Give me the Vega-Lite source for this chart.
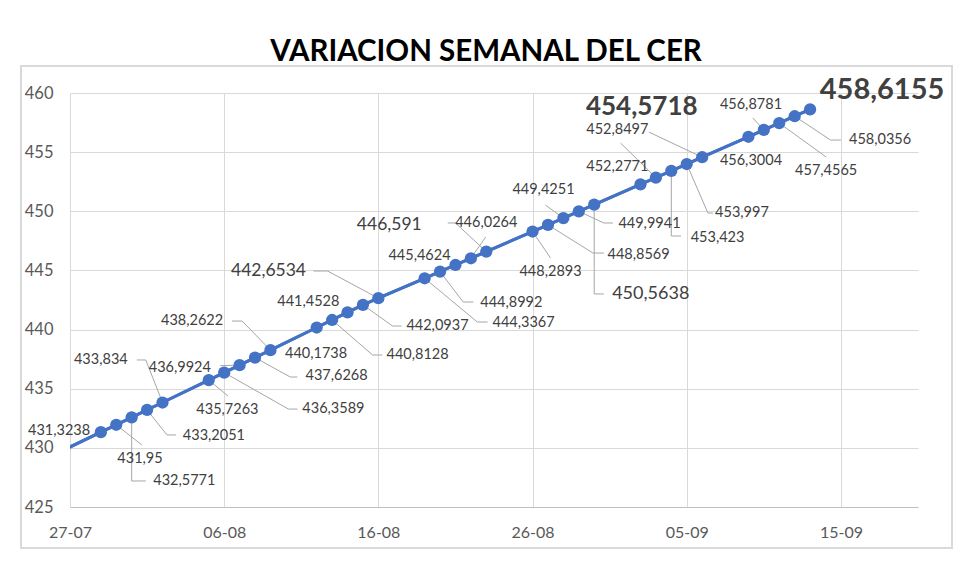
{
"$schema": "https://vega.github.io/schema/vega-lite/v6.json",
"autosize": {"type": "none"},
"width": 848,
"height": 414,
"padding": {"left": 70, "top": 93, "right": 62, "bottom": 57},
"background": "white",
"title": {"text": "VARIACION SEMANAL DEL CER", "font": "Lato", "fontSize": 29.5, "fontWeight": "bold", "color": "#000000", "anchor": "middle", "offset": -2, "dx": -8},
"data": {"values": [
{"date":"2024/07/26","value":429.45},
{"date":"2024/07/29","value":431.3238},
{"date":"2024/07/30","value":431.95},
{"date":"2024/07/31","value":432.5771},
{"date":"2024/08/01","value":433.2051},
{"date":"2024/08/02","value":433.834},
{"date":"2024/08/05","value":435.7263},
{"date":"2024/08/06","value":436.3589},
{"date":"2024/08/07","value":436.9924},
{"date":"2024/08/08","value":437.6268},
{"date":"2024/08/09","value":438.2622},
{"date":"2024/08/12","value":440.1738},
{"date":"2024/08/13","value":440.8128},
{"date":"2024/08/14","value":441.4528},
{"date":"2024/08/15","value":442.0937},
{"date":"2024/08/16","value":442.6534},
{"date":"2024/08/19","value":444.3367},
{"date":"2024/08/20","value":444.8992},
{"date":"2024/08/21","value":445.4624},
{"date":"2024/08/22","value":446.0264},
{"date":"2024/08/23","value":446.591},
{"date":"2024/08/26","value":448.2893},
{"date":"2024/08/27","value":448.8569},
{"date":"2024/08/28","value":449.4251},
{"date":"2024/08/29","value":449.9941},
{"date":"2024/08/30","value":450.5638},
{"date":"2024/09/02","value":452.2771},
{"date":"2024/09/03","value":452.8497},
{"date":"2024/09/04","value":453.423},
{"date":"2024/09/05","value":453.997},
{"date":"2024/09/06","value":454.5718},
{"date":"2024/09/09","value":456.3004},
{"date":"2024/09/10","value":456.8781},
{"date":"2024/09/11","value":457.4565},
{"date":"2024/09/12","value":458.0356},
{"date":"2024/09/13","value":458.6155}
]},
"layer": [
{"mark": {"type": "line", "color": "#4472C4", "strokeWidth": 3, "clip": true},
 "encoding": {
  "x": {"field": "date", "type": "temporal",
        "scale": {"domain": [{"year":2024,"month":7,"date":27},{"year":2024,"month":9,"date":20}], "nice": false},
        "axis": {"title": null, "format": "%d-%m", "values": [{"year":2024,"month":7,"date":27},{"year":2024,"month":8,"date":6},{"year":2024,"month":8,"date":16},{"year":2024,"month":8,"date":26},{"year":2024,"month":9,"date":5},{"year":2024,"month":9,"date":15}],
                 "grid": true, "gridColor": "#D9D9D9", "ticks": false, "domain": true, "domainColor": "#BFBFBF", "labelFont": "Lato", "labelFontSize": 16, "labelColor": "#595959", "labelPadding": 17, "labelFlush": false}},
  "y": {"field": "value", "type": "quantitative",
        "scale": {"domain": [425, 460], "nice": false, "zero": false},
        "axis": {"title": null, "values": [425,430,435,440,445,450,455,460], "grid": true, "gridColor": "#D9D9D9", "ticks": false, "domain": false, "labelFont": "Lato", "labelFontSize": 16.5, "labelColor": "#595959", "labelPadding": 17}}
 }},
{"mark": {"type": "rect", "fill": null, "stroke": "#D9D9D9", "strokeWidth": 1.5, "clip": false},
 "encoding": {"x": {"datum": {"year":2024,"month":7,"date":23,"hours":20}}, "x2": {"datum": {"year":2024,"month":9,"date":22,"hours":5}}, "y": {"datum": 462.3}, "y2": {"datum": 421.55}}},
{"transform":[{"filter":"datum.value==431.95"}],"layer":[
 {"mark":"rule","encoding":{"x":{"field":"date","type":"temporal"},"y":{"field":"value","type":"quantitative"},"x2":{"datum":{"year":2024,"month":7,"date":31,"hours":16}},"y2":{"datum":430.24}}}]},
{"transform":[{"filter":"datum.value==432.5771"}],"layer":[
 {"mark":"rule","encoding":{"x":{"field":"date","type":"temporal"},"y":{"field":"value","type":"quantitative"},"y2":{"datum":427.2}}},
 {"mark":"rule","encoding":{"x":{"field":"date","type":"temporal"},"x2":{"datum":{"year":2024,"month":7,"date":31,"hours":22}},"y":{"datum":427.2}}}]},
{"transform":[{"filter":"datum.value==433.2051"}],"layer":[
 {"mark":"rule","encoding":{"x":{"field":"date","type":"temporal"},"y":{"field":"value","type":"quantitative"},"x2":{"datum":{"year":2024,"month":8,"date":2,"hours":7}},"y2":{"datum":431.09}}},
 {"mark":"rule","encoding":{"x":{"datum":{"year":2024,"month":8,"date":2,"hours":7}},"x2":{"datum":{"year":2024,"month":8,"date":2,"hours":21}},"y":{"datum":431.09}}}]},
{"transform":[{"filter":"datum.value==433.834"}],"layer":[
 {"mark":"rule","encoding":{"x":{"field":"date","type":"temporal"},"y":{"field":"value","type":"quantitative"},"x2":{"datum":{"year":2024,"month":7,"date":31,"hours":22}},"y2":{"datum":437.43}}},
 {"mark":"rule","encoding":{"x":{"datum":{"year":2024,"month":7,"date":31,"hours":22}},"x2":{"datum":{"year":2024,"month":7,"date":31,"hours":8}},"y":{"datum":437.43}}}]},
{"transform":[{"filter":"datum.value==436.9924"}],"layer":[
 {"mark":"rule","encoding":{"x":{"field":"date","type":"temporal"},"y":{"field":"value","type":"quantitative"},"x2":{"datum":{"year":2024,"month":8,"date":5,"hours":18}},"y2":{"datum":436.95}}}]},
{"transform":[{"filter":"datum.value==435.7263"}],"layer":[
 {"mark":"rule","encoding":{"x":{"field":"date","type":"temporal"},"y":{"field":"value","type":"quantitative"},"x2":{"datum":{"year":2024,"month":8,"date":6,"hours":6}},"y2":{"datum":434.38}}}]},
{"transform":[{"filter":"datum.value==436.3589"}],"layer":[
 {"mark":"rule","encoding":{"x":{"field":"date","type":"temporal"},"y":{"field":"value","type":"quantitative"},"x2":{"datum":{"year":2024,"month":8,"date":10,"hours":4}},"y2":{"datum":433.28}}},
 {"mark":"rule","encoding":{"x":{"datum":{"year":2024,"month":8,"date":10,"hours":4}},"x2":{"datum":{"year":2024,"month":8,"date":10,"hours":18}},"y":{"datum":433.28}}}]},
{"transform":[{"filter":"datum.value==437.6268"}],"layer":[
 {"mark":"rule","encoding":{"x":{"field":"date","type":"temporal"},"y":{"field":"value","type":"quantitative"},"x2":{"datum":{"year":2024,"month":8,"date":10,"hours":7}},"y2":{"datum":435.99}}},
 {"mark":"rule","encoding":{"x":{"datum":{"year":2024,"month":8,"date":10,"hours":7}},"x2":{"datum":{"year":2024,"month":8,"date":10,"hours":18}},"y":{"datum":435.99}}}]},
{"transform":[{"filter":"datum.value==438.2622"}],"layer":[
 {"mark":"rule","encoding":{"x":{"field":"date","type":"temporal"},"y":{"field":"value","type":"quantitative"},"x2":{"datum":{"year":2024,"month":8,"date":7,"hours":4}},"y2":{"datum":440.72}}},
 {"mark":"rule","encoding":{"x":{"datum":{"year":2024,"month":8,"date":7,"hours":4}},"x2":{"datum":{"year":2024,"month":8,"date":6,"hours":12}},"y":{"datum":440.72}}}]},
{"transform":[{"filter":"datum.value==440.8128"}],"layer":[
 {"mark":"rule","encoding":{"x":{"field":"date","type":"temporal"},"y":{"field":"value","type":"quantitative"},"x2":{"datum":{"year":2024,"month":8,"date":15,"hours":15}},"y2":{"datum":437.85}}},
 {"mark":"rule","encoding":{"x":{"datum":{"year":2024,"month":8,"date":15,"hours":15}},"x2":{"datum":{"year":2024,"month":8,"date":16,"hours":6}},"y":{"datum":437.85}}}]},
{"transform":[{"filter":"datum.value==442.0937"}],"layer":[
 {"mark":"rule","encoding":{"x":{"field":"date","type":"temporal"},"y":{"field":"value","type":"quantitative"},"x2":{"datum":{"year":2024,"month":8,"date":16,"hours":22}},"y2":{"datum":440.3}}},
 {"mark":"rule","encoding":{"x":{"datum":{"year":2024,"month":8,"date":16,"hours":22}},"x2":{"datum":{"year":2024,"month":8,"date":17,"hours":12}},"y":{"datum":440.3}}}]},
{"transform":[{"filter":"datum.value==442.6534"}],"layer":[
 {"mark":"rule","encoding":{"x":{"field":"date","type":"temporal"},"y":{"field":"value","type":"quantitative"},"x2":{"datum":{"year":2024,"month":8,"date":12,"hours":17}},"y2":{"datum":444.95}}},
 {"mark":"rule","encoding":{"x":{"datum":{"year":2024,"month":8,"date":12,"hours":17}},"x2":{"datum":{"year":2024,"month":8,"date":11,"hours":19}},"y":{"datum":444.95}}}]},
{"transform":[{"filter":"datum.value==444.3367"}],"layer":[
 {"mark":"rule","encoding":{"x":{"field":"date","type":"temporal"},"y":{"field":"value","type":"quantitative"},"x2":{"datum":{"year":2024,"month":8,"date":22,"hours":10}},"y2":{"datum":440.64}}},
 {"mark":"rule","encoding":{"x":{"datum":{"year":2024,"month":8,"date":22,"hours":10}},"x2":{"datum":{"year":2024,"month":8,"date":23,"hours":2}},"y":{"datum":440.64}}}]},
{"transform":[{"filter":"datum.value==444.8992"}],"layer":[
 {"mark":"rule","encoding":{"x":{"field":"date","type":"temporal"},"y":{"field":"value","type":"quantitative"},"x2":{"datum":{"year":2024,"month":8,"date":21,"hours":12}},"y2":{"datum":442.33}}},
 {"mark":"rule","encoding":{"x":{"datum":{"year":2024,"month":8,"date":21,"hours":12}},"x2":{"datum":{"year":2024,"month":8,"date":22,"hours":4}},"y":{"datum":442.33}}}]},
{"transform":[{"filter":"datum.value==446.0264"}],"layer":[
 {"mark":"rule","encoding":{"x":{"field":"date","type":"temporal"},"y":{"field":"value","type":"quantitative"},"x2":{"datum":{"year":2024,"month":8,"date":22,"hours":23}},"y2":{"datum":447.82}}}]},
{"transform":[{"filter":"datum.value==446.591"}],"layer":[
 {"mark":"rule","encoding":{"x":{"field":"date","type":"temporal"},"y":{"field":"value","type":"quantitative"},"x2":{"datum":{"year":2024,"month":8,"date":21,"hours":0}},"y2":{"datum":449.01}}},
 {"mark":"rule","encoding":{"x":{"datum":{"year":2024,"month":8,"date":21,"hours":0}},"x2":{"datum":{"year":2024,"month":8,"date":20,"hours":12}},"y":{"datum":449.01}}}]},
{"transform":[{"filter":"datum.value==448.2893"}],"layer":[
 {"mark":"rule","encoding":{"x":{"field":"date","type":"temporal"},"y":{"field":"value","type":"quantitative"},"x2":{"datum":{"year":2024,"month":8,"date":27,"hours":4}},"y2":{"datum":446.05}}}]},
{"transform":[{"filter":"datum.value==448.8569"}],"layer":[
 {"mark":"rule","encoding":{"x":{"field":"date","type":"temporal"},"y":{"field":"value","type":"quantitative"},"x2":{"datum":{"year":2024,"month":8,"date":29,"hours":22}},"y2":{"datum":446.47}}},
 {"mark":"rule","encoding":{"x":{"datum":{"year":2024,"month":8,"date":29,"hours":22}},"x2":{"datum":{"year":2024,"month":8,"date":30,"hours":15}},"y":{"datum":446.47}}}]},
{"transform":[{"filter":"datum.value==449.4251"}],"layer":[
 {"mark":"rule","encoding":{"x":{"field":"date","type":"temporal"},"y":{"field":"value","type":"quantitative"},"x2":{"datum":{"year":2024,"month":8,"date":26,"hours":20}},"y2":{"datum":450.53}}}]},
{"transform":[{"filter":"datum.value==449.9941"}],"layer":[
 {"mark":"rule","encoding":{"x":{"field":"date","type":"temporal"},"y":{"field":"value","type":"quantitative"},"x2":{"datum":{"year":2024,"month":8,"date":30,"hours":15}},"y2":{"datum":449.01}}},
 {"mark":"rule","encoding":{"x":{"datum":{"year":2024,"month":8,"date":30,"hours":15}},"x2":{"datum":{"year":2024,"month":8,"date":31,"hours":5}},"y":{"datum":449.01}}}]},
{"transform":[{"filter":"datum.value==450.5638"}],"layer":[
 {"mark":"rule","encoding":{"x":{"field":"date","type":"temporal"},"y":{"field":"value","type":"quantitative"},"y2":{"datum":443.01}}},
 {"mark":"rule","encoding":{"x":{"field":"date","type":"temporal"},"x2":{"datum":{"year":2024,"month":8,"date":30,"hours":15}},"y":{"datum":443.01}}}]},
{"transform":[{"filter":"datum.value==452.8497"}],"layer":[
 {"mark":"rule","encoding":{"x":{"field":"date","type":"temporal"},"y":{"field":"value","type":"quantitative"},"x2":{"datum":{"year":2024,"month":8,"date":31,"hours":17}},"y2":{"datum":455.77}}}]},
{"transform":[{"filter":"datum.value==454.5718"}],"layer":[
 {"mark":"rule","encoding":{"x":{"field":"date","type":"temporal"},"y":{"field":"value","type":"quantitative"},"x2":{"datum":{"year":2024,"month":9,"date":2,"hours":13}},"y2":{"datum":456.7}}}]},
{"transform":[{"filter":"datum.value==453.423"}],"layer":[
 {"mark":"rule","encoding":{"x":{"field":"date","type":"temporal"},"y":{"field":"value","type":"quantitative"},"y2":{"datum":447.91}}},
 {"mark":"rule","encoding":{"x":{"field":"date","type":"temporal"},"x2":{"datum":{"year":2024,"month":9,"date":4,"hours":15}},"y":{"datum":447.91}}}]},
{"transform":[{"filter":"datum.value==453.997"}],"layer":[
 {"mark":"rule","encoding":{"x":{"field":"date","type":"temporal"},"y":{"field":"value","type":"quantitative"},"x2":{"datum":{"year":2024,"month":9,"date":6,"hours":9}},"y2":{"datum":449.85}}},
 {"mark":"rule","encoding":{"x":{"datum":{"year":2024,"month":9,"date":6,"hours":9}},"x2":{"datum":{"year":2024,"month":9,"date":6,"hours":17}},"y":{"datum":449.85}}}]},
{"transform":[{"filter":"datum.value==456.8781"}],"layer":[
 {"mark":"rule","encoding":{"x":{"field":"date","type":"temporal"},"y":{"field":"value","type":"quantitative"},"x2":{"datum":{"year":2024,"month":9,"date":9,"hours":7}},"y2":{"datum":457.88}}}]},
{"transform":[{"filter":"datum.value==457.4565"}],"layer":[
 {"mark":"rule","encoding":{"x":{"field":"date","type":"temporal"},"y":{"field":"value","type":"quantitative"},"x2":{"datum":{"year":2024,"month":9,"date":14,"hours":1}},"y2":{"datum":454.59}}}]},
{"transform":[{"filter":"datum.value==458.0356"}],"layer":[
 {"mark":"rule","encoding":{"x":{"field":"date","type":"temporal"},"y":{"field":"value","type":"quantitative"},"x2":{"datum":{"year":2024,"month":9,"date":14,"hours":8}},"y2":{"datum":456.02}}},
 {"mark":"rule","encoding":{"x":{"datum":{"year":2024,"month":9,"date":14,"hours":8}},"x2":{"datum":{"year":2024,"month":9,"date":15,"hours":0}},"y":{"datum":456.02}}}]},
{"mark": {"type": "line", "color": "#4472C4", "strokeWidth": 3, "clip": true},
 "encoding": {"x": {"field": "date", "type": "temporal"}, "y": {"field": "value", "type": "quantitative"}}},
{"mark": {"type": "point", "filled": true, "opacity": 1, "size": 150, "color": "#4472C4", "clip": true},
 "encoding": {"x": {"field": "date", "type": "temporal"}, "y": {"field": "value", "type": "quantitative"}}},
{"transform":[{"filter":"datum.value==431.3238"}],"mark":"text","encoding":{"x":{"datum":{"year":2024,"month":7,"date":26,"hours":7}},"y":{"datum":431.42},"text":{"field":"value","format":".4~f"}}},
{"transform":[{"filter":"datum.value==431.95"}],"mark":"text","encoding":{"x":{"datum":{"year":2024,"month":7,"date":31,"hours":13}},"y":{"datum":429.06},"text":{"field":"value","format":".4~f"}}},
{"transform":[{"filter":"datum.value==432.5771"}],"mark":"text","encoding":{"x":{"datum":{"year":2024,"month":8,"date":3,"hours":10}},"y":{"datum":427.2},"text":{"field":"value","format":".4~f"}}},
{"transform":[{"filter":"datum.value==433.2051"}],"mark":"text","encoding":{"x":{"datum":{"year":2024,"month":8,"date":5,"hours":8}},"y":{"datum":431.0},"text":{"field":"value","format":".4~f"}}},
{"transform":[{"filter":"datum.value==433.834"}],"mark":"text","encoding":{"x":{"datum":{"year":2024,"month":7,"date":29,"hours":0}},"y":{"datum":437.43},"text":{"field":"value","format":".4~f"}}},
{"transform":[{"filter":"datum.value==436.9924"}],"mark":"text","encoding":{"x":{"datum":{"year":2024,"month":8,"date":3,"hours":3}},"y":{"datum":436.75},"text":{"field":"value","format":".4~f"}}},
{"transform":[{"filter":"datum.value==435.7263"}],"mark":"text","encoding":{"x":{"datum":{"year":2024,"month":8,"date":6,"hours":5}},"y":{"datum":433.2},"text":{"field":"value","format":".4~f"}}},
{"transform":[{"filter":"datum.value==436.3589"}],"mark":"text","encoding":{"x":{"datum":{"year":2024,"month":8,"date":13,"hours":2}},"y":{"datum":433.28},"text":{"field":"value","format":".4~f"}}},
{"transform":[{"filter":"datum.value==437.6268"}],"mark":"text","encoding":{"x":{"datum":{"year":2024,"month":8,"date":13,"hours":7}},"y":{"datum":436.07},"text":{"field":"value","format":".4~f"}}},
{"transform":[{"filter":"datum.value==438.2622"}],"mark":"text","encoding":{"x":{"datum":{"year":2024,"month":8,"date":3,"hours":22}},"y":{"datum":440.72},"text":{"field":"value","format":".4~f"}}},
{"transform":[{"filter":"datum.value==440.1738"}],"mark":"text","encoding":{"x":{"datum":{"year":2024,"month":8,"date":11,"hours":23}},"y":{"datum":437.93},"text":{"field":"value","format":".4~f"}}},
{"transform":[{"filter":"datum.value==440.8128"}],"mark":"text","encoding":{"x":{"datum":{"year":2024,"month":8,"date":18,"hours":13}},"y":{"datum":437.85},"text":{"field":"value","format":".4~f"}}},
{"transform":[{"filter":"datum.value==441.4528"}],"mark":"text","encoding":{"x":{"datum":{"year":2024,"month":8,"date":11,"hours":11}},"y":{"datum":442.33},"text":{"field":"value","format":".4~f"}}},
{"transform":[{"filter":"datum.value==442.0937"}],"mark":"text","encoding":{"x":{"datum":{"year":2024,"month":8,"date":19,"hours":20}},"y":{"datum":440.3},"text":{"field":"value","format":".4~f"}}},
{"transform":[{"filter":"datum.value==442.6534"}],"mark":{"type":"text","fontSize":17.5},"encoding":{"x":{"datum":{"year":2024,"month":8,"date":8,"hours":21}},"y":{"datum":444.95},"text":{"field":"value","format":".4~f"}}},
{"transform":[{"filter":"datum.value==444.3367"}],"mark":"text","encoding":{"x":{"datum":{"year":2024,"month":8,"date":25,"hours":10}},"y":{"datum":440.55},"text":{"field":"value","format":".4~f"}}},
{"transform":[{"filter":"datum.value==444.8992"}],"mark":"text","encoding":{"x":{"datum":{"year":2024,"month":8,"date":24,"hours":15}},"y":{"datum":442.24},"text":{"field":"value","format":".4~f"}}},
{"transform":[{"filter":"datum.value==445.4624"}],"mark":"text","encoding":{"x":{"datum":{"year":2024,"month":8,"date":18,"hours":16}},"y":{"datum":446.22},"text":{"field":"value","format":".4~f"}}},
{"transform":[{"filter":"datum.value==446.0264"}],"mark":"text","encoding":{"x":{"datum":{"year":2024,"month":8,"date":23,"hours":0}},"y":{"datum":449.01},"text":{"field":"value","format":".4~f"}}},
{"transform":[{"filter":"datum.value==446.591"}],"mark":{"type":"text","fontSize":17.5},"encoding":{"x":{"datum":{"year":2024,"month":8,"date":16,"hours":17}},"y":{"datum":448.84},"text":{"field":"value","format":".4~f"}}},
{"transform":[{"filter":"datum.value==448.2893"}],"mark":"text","encoding":{"x":{"datum":{"year":2024,"month":8,"date":27,"hours":4}},"y":{"datum":444.86},"text":{"field":"value","format":".4~f"}}},
{"transform":[{"filter":"datum.value==448.8569"}],"mark":"text","encoding":{"x":{"datum":{"year":2024,"month":9,"date":1,"hours":21}},"y":{"datum":446.3},"text":{"field":"value","format":".4~f"}}},
{"transform":[{"filter":"datum.value==449.4251"}],"mark":"text","encoding":{"x":{"datum":{"year":2024,"month":8,"date":26,"hours":17}},"y":{"datum":451.8},"text":{"field":"value","format":".4~f"}}},
{"transform":[{"filter":"datum.value==449.9941"}],"mark":"text","encoding":{"x":{"datum":{"year":2024,"month":9,"date":2,"hours":14}},"y":{"datum":448.92},"text":{"field":"value","format":".4~f"}}},
{"transform":[{"filter":"datum.value==450.5638"}],"mark":{"type":"text","fontSize":18},"encoding":{"x":{"datum":{"year":2024,"month":9,"date":2,"hours":16}},"y":{"datum":443.01},"text":{"field":"value","format":".4~f"}}},
{"transform":[{"filter":"datum.value==452.2771"}],"mark":"text","encoding":{"x":{"datum":{"year":2024,"month":8,"date":31,"hours":12}},"y":{"datum":453.74},"text":{"field":"value","format":".4~f"}}},
{"transform":[{"filter":"datum.value==452.8497"}],"mark":"text","encoding":{"x":{"datum":{"year":2024,"month":8,"date":31,"hours":12}},"y":{"datum":456.87},"text":{"field":"value","format":".4~f"}}},
{"transform":[{"filter":"datum.value==454.5718"}],"mark":{"type":"text","fontSize":26,"fontWeight":"bold"},"encoding":{"x":{"datum":{"year":2024,"month":9,"date":2,"hours":2}},"y":{"datum":458.81},"text":{"field":"value","format":".4~f"}}},
{"transform":[{"filter":"datum.value==453.423"}],"mark":"text","encoding":{"x":{"datum":{"year":2024,"month":9,"date":7,"hours":0}},"y":{"datum":447.74},"text":{"field":"value","format":".4~f"}}},
{"transform":[{"filter":"datum.value==453.997"}],"mark":"text","encoding":{"x":{"datum":{"year":2024,"month":9,"date":8,"hours":14}},"y":{"datum":449.85},"text":{"field":"value","format":".4~f"}}},
{"transform":[{"filter":"datum.value==456.3004"}],"mark":"text","encoding":{"x":{"datum":{"year":2024,"month":9,"date":9,"hours":4}},"y":{"datum":454.25},"text":{"field":"value","format":".4~f"}}},
{"transform":[{"filter":"datum.value==456.8781"}],"mark":"text","encoding":{"x":{"datum":{"year":2024,"month":9,"date":9,"hours":4}},"y":{"datum":458.98},"text":{"field":"value","format":".4~f"}}},
{"transform":[{"filter":"datum.value==457.4565"}],"mark":"text","encoding":{"x":{"datum":{"year":2024,"month":9,"date":14,"hours":1}},"y":{"datum":453.4},"text":{"field":"value","format":".4~f"}}},
{"transform":[{"filter":"datum.value==458.0356"}],"mark":"text","encoding":{"x":{"datum":{"year":2024,"month":9,"date":17,"hours":13}},"y":{"datum":456.02},"text":{"field":"value","format":".4~f"}}},
{"transform":[{"filter":"datum.value==458.6155"}],"mark":{"type":"text","fontSize":29,"fontWeight":"bold"},"encoding":{"x":{"datum":{"year":2024,"month":9,"date":17,"hours":16}},"y":{"datum":460.25},"text":{"field":"value","format":".4~f"}}}
],
"config": {
 "view": {"stroke": null},
 "locale": {"number": {"decimal": ",", "thousands": ".", "grouping": [3], "currency": ["$", ""]}},
 "text": {"font": "Lato", "fontSize": 14.5, "color": "#404040", "align": "center", "baseline": "middle"},
 "rule": {"color": "#A6A6A6", "strokeWidth": 1}
}
}
